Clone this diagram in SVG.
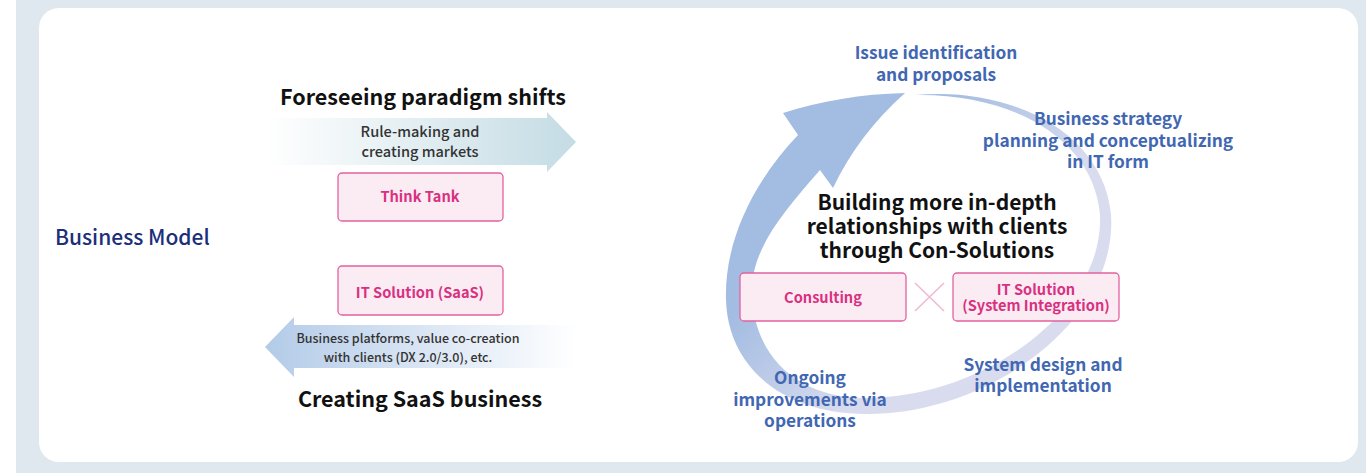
<svg xmlns="http://www.w3.org/2000/svg" width="1366" height="473" viewBox="0 0 1366 473">
  <defs>
    <linearGradient id="gradRight" x1="0" y1="0" x2="1" y2="0">
      <stop offset="0" stop-color="#ffffff"/>
      <stop offset="1" stop-color="#c4dce4"/>
    </linearGradient>
    <linearGradient id="gradLeft" x1="0" y1="0" x2="1" y2="0">
      <stop offset="0" stop-color="#b3cbe8"/>
      <stop offset="1" stop-color="#ffffff"/>
    </linearGradient>
    <linearGradient id="gradRing" gradientUnits="userSpaceOnUse" x1="740" y1="150" x2="1000" y2="400">
      <stop offset="0.3" stop-color="#a3bce1"/>
      <stop offset="0.72" stop-color="#d9dcef"/>
    </linearGradient>
    <style>
      .t { font-family: "Noto Sans CJK JP", "Noto Sans", "Liberation Sans", sans-serif; text-anchor: middle; }
      .head { font-size: 21.5px; font-weight: 700; fill: #111; }
      .sub { font-size: 14.6px; font-weight: 500; fill: #333; }
      .lbl { font-size: 17.3px; font-weight: 700; fill: #4167b2; }
      .box rect { fill: #fbebf3; stroke: #e2629f; stroke-width: 1.3; }
      .box text { font-size: 14.6px; font-weight: 700; fill: #d93181; }
    </style>
  </defs>

  <!-- panel background -->
  <rect x="0" y="0" width="1366" height="473" fill="#ffffff"/>
  <rect x="16" y="0" width="1350" height="473" fill="#dfe8ef"/>
  <rect x="39" y="8" width="1319" height="454" rx="20" fill="#ffffff"/>

  <!-- cycle ring with arrowhead -->
  <g id="cycle-ring">
    <path fill="url(#gradRing)" d="M 915 95
      C 1010 86, 1104 132, 1111 215
      C 1118 320, 990 415, 865 414
      C 780 413, 728 365, 726 300
      C 724 240, 755 180, 798 135
      L 783 113
      C 820 101, 862 94, 905 93
      Q 858 135, 833 188
      L 820 170
      C 785 210, 755 245, 752 285
      C 750 358, 800 398, 865 398
      C 985 398, 1104 310, 1100 215
      C 1094 138, 1010 93, 915 95 Z"/>
  </g>

  <text class="t" x="55" y="245" style="text-anchor:start;font-size:21px;font-weight:500;fill:#1b2f7a">Business Model</text>

  <!-- left column -->
  <g id="paradigm-arrow">
    <polygon fill="url(#gradRight)" points="265,118 547,118 547,112 576,142 547,172 547,165 265,165"/>
    <text class="t sub" x="420" y="137">Rule-making and</text>
    <text class="t sub" x="420" y="157">creating markets</text>
  </g>
  <text class="t head" x="423" y="105">Foreseeing paradigm shifts</text>

  <g id="think-tank" class="box">
    <rect x="338" y="173" width="165" height="48" rx="4"/>
    <text class="t" x="420" y="202">Think Tank</text>
  </g>

  <g id="it-solution-saas" class="box">
    <rect x="338" y="266" width="165" height="49" rx="4"/>
    <text class="t" x="420" y="298">IT Solution (SaaS)</text>
  </g>

  <g id="saas-arrow">
    <polygon fill="url(#gradLeft)" points="265,347 294,317 294,325 577,325 577,368 294,368 294,377"/>
    <text class="t sub" x="408" y="343" style="font-size:12.5px">Business platforms, value co-creation</text>
    <text class="t sub" x="408" y="362" style="font-size:12.5px">with clients (DX 2.0/3.0), etc.</text>
  </g>
  <text class="t head" x="420" y="407">Creating SaaS business</text>

  <!-- right column -->
  <text class="t lbl" x="936" y="59">Issue identification</text>
  <text class="t lbl" x="936" y="81">and proposals</text>

  <text class="t lbl" x="1108" y="125">Business strategy</text>
  <text class="t lbl" x="1108" y="147">planning and conceptualizing</text>
  <text class="t lbl" x="1108" y="168">in IT form</text>

  <text class="t head" x="937" y="210" style="font-size:21px">Building more in-depth</text>
  <text class="t head" x="937" y="234" style="font-size:21px">relationships with clients</text>
  <text class="t head" x="937" y="258" style="font-size:21px">through Con-Solutions</text>

  <g id="consulting" class="box">
    <rect x="740" y="273" width="166" height="48" rx="4"/>
    <text class="t" x="823" y="303">Consulting</text>
  </g>

  <g id="connectors">
    <path d="M 915 283 L 944 311 M 944 283 L 915 311" stroke="#f1b9d3" stroke-width="1.6" fill="none"/>
  </g>

  <g id="it-solution-si" class="box">
    <rect x="953" y="273" width="166" height="48" rx="4"/>
    <text class="t" x="1036" y="295">IT Solution</text>
    <text class="t" x="1036" y="311">(System Integration)</text>
  </g>

  <text class="t lbl" x="1043" y="371">System design and</text>
  <text class="t lbl" x="1043" y="392">implementation</text>

  <text class="t lbl" x="810" y="384">Ongoing</text>
  <text class="t lbl" x="810" y="406">improvements via</text>
  <text class="t lbl" x="810" y="427">operations</text>
</svg>
